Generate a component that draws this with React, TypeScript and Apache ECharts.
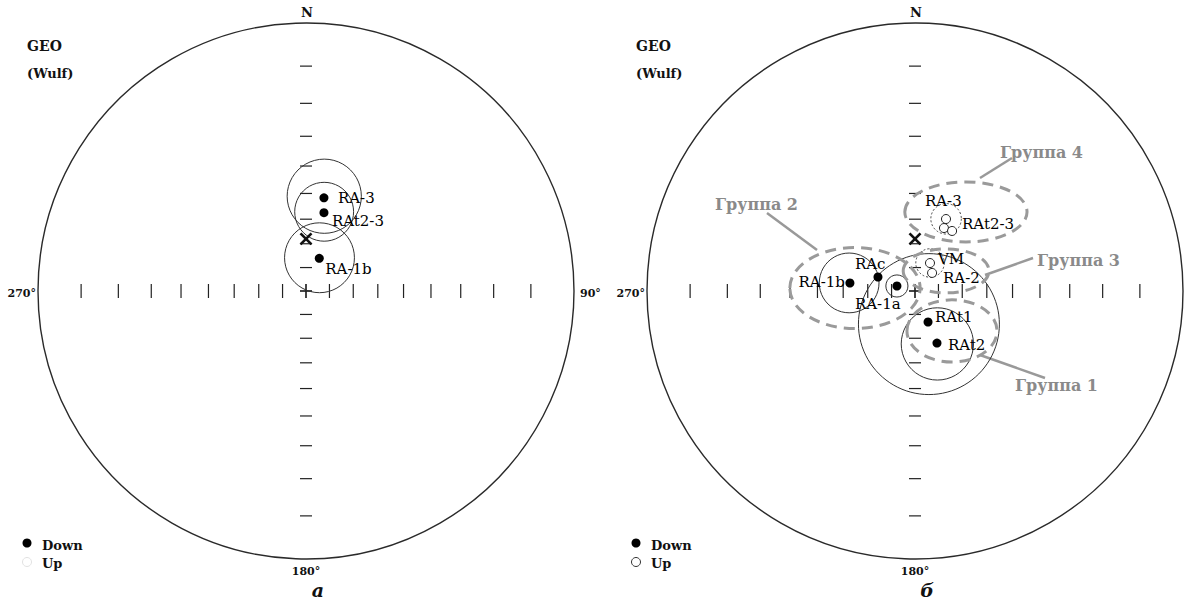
import React, { useEffect, useRef } from "react";
import * as echarts from "echarts";

// ---------- DATA ----------
// Wulff-net tick inclinations along the N-S and E-W diameters (90 = centre cross)
const tickInclinations = [90, 80, 70, 60, 50, 40, 30, 20, 10];

// Panel "а" (left)
const leftNames = ["RA-3", "RAt2-3", "RA-1b"];
const leftDec = [10.9, 12.9, 22.1];
const leftInc = [51.0, 56.6, 75.0];
const leftA95 = [14.0, 11.5, 14.6];

// Panel "б" (right)
const rightNames = ["RA-1b", "RAc", "RA-1a", "RAt1", "RAt2", "VM", "RA-2", "RA-3", "", "RAt2-3"];
const rightDec = [277.0, 290.7, 285.5, 157.2, 157.1, 28.2, 43.4, 23.3, 24.7, 31.7];
const rightInc = [62.5, 73.2, 82.0, 75.7, 66.2, -76.5, -79.4, -57.4, -61.0, -60.5];
const rightA95: (number | null)[] = [12.0, null, 4.7, 29.0, 14.7, 6.0, null, 6.0, null, null];

// Reference direction (cross)
const referenceDec = 0;
const referenceInc = 68;

// Group outlines (right panel)
const groupNames = ["Группа 1", "Группа 2", "Группа 3", "Группа 4"];

// ---------- LAYOUT ----------
const FONT = '"DejaVu Serif", "Liberation Serif", serif';
const LEFT_C = [306, 291];
const RIGHT_C = [915, 291];
const RADIUS = 268;

type Lay = [number, number, "left" | "right" | "center"];
const leftLabelLayout: Record<string, Lay> = {
  "RA-3": [14, 0, "left"],
  "RAt2-3": [8, 8, "left"],
  "RA-1b": [6, 11, "left"],
};
const rightLabelLayout: Record<string, Lay> = {
  "RA-3": [-21, -18, "left"],
  "RAt2-3": [10, -7, "left"],
  VM: [8, -4, "left"],
  "RA-2": [11, 5, "left"],
  RAc: [-23, -13, "left"],
  "RA-1b": [-5, -1, "right"],
  "RA-1a": [-42, 18, "left"],
  RAt1: [7, -5, "left"],
  RAt2: [11, 2, "left"],
};
// ellipse outlines in net units: [cx, cy, rx, ry]
const groupOutlines: Record<string, [number, number, number, number]> = {
  "Группа 1": [0.138, -0.149, 0.168, 0.116],
  "Группа 2": [-0.224, 0.011, 0.243, 0.151],
  "Группа 3": [0.116, 0.075, 0.16, 0.082],
  "Группа 4": [0.19, 0.295, 0.228, 0.112],
};
const groupLabelPos: Record<string, [number, number]> = {
  "Группа 1": [1015, 385],
  "Группа 2": [715, 204],
  "Группа 3": [1037, 260],
  "Группа 4": [1000, 152],
};
const groupLeaders: Record<string, [number, number, number, number]> = {
  "Группа 1": [980, 355, 1045, 378],
  "Группа 2": [767, 213, 817, 250],
  "Группа 3": [985, 275, 1033, 258],
  "Группа 4": [1012, 158, 980, 178],
};

// ---------- PROJECTION (stereographic / Wulff) ----------
const RAD = Math.PI / 180;
function project(dec: number, inc: number): [number, number] {
  const d = (90 - Math.abs(inc)) * RAD;
  const r = Math.tan(d / 2);
  return [r * Math.sin(dec * RAD), r * Math.cos(dec * RAD)];
}
function cone(dec: number, inc: number, a95: number): [number, number, number] {
  const d = 90 - Math.abs(inc);
  const r1 = Math.tan(((d - a95) / 2) * RAD);
  const r2 = Math.tan(((d + a95) / 2) * RAD);
  const c = (r1 + r2) / 2;
  return [c * Math.sin(dec * RAD), c * Math.cos(dec * RAD), (r2 - r1) / 2];
}

function frameSeries(idx: number) {
  return {
    type: "custom",
    xAxisIndex: idx,
    yAxisIndex: idx,
    silent: true,
    encode: { x: 0, y: 1 },
    data: [[0, 0, 1]],
    renderItem: (_p: any, api: any) => {
      const c = api.coord([0, 0]);
      const s = api.size([1, 1]);
      return {
        type: "circle",
        shape: { cx: c[0], cy: c[1], r: s[0] },
        style: { fill: "none", stroke: "#2a2a2a", lineWidth: 1.4 },
      };
    },
  };
}

function ticksSeries(idx: number) {
  return {
    type: "custom",
    xAxisIndex: idx,
    yAxisIndex: idx,
    silent: true,
    encode: { x: 0, y: 1 },
    data: tickInclinations.map((inc) => [Math.tan(((90 - inc) / 2) * RAD), 0]),
    renderItem: (_p: any, api: any) => {
      const r = api.value(0);
      const e = api.coord([r, 0]);
      const w = api.coord([-r, 0]);
      const n = api.coord([0, r]);
      const s = api.coord([0, -r]);
      const st = { stroke: "#222", lineWidth: 1.2 };
      const v = (p: number[]) => ({ type: "line", shape: { x1: p[0], y1: p[1] - 7, x2: p[0], y2: p[1] + 7 }, style: st });
      const h = (p: number[]) => ({ type: "line", shape: { x1: p[0] - 6, y1: p[1], x2: p[0] + 6, y2: p[1] }, style: st });
      return { type: "group", children: [v(e), v(w), h(n), h(s)] };
    },
  };
}

function coneSeries(idx: number, decs: number[], incs: number[], a95s: (number | null)[]) {
  const data: number[][] = [];
  decs.forEach((d, i) => {
    const a = a95s[i];
    if (a == null) return;
    const [x, y, rho] = cone(d, incs[i], a);
    data.push([x, y, rho, incs[i] < 0 ? 1 : 0]);
  });
  return {
    type: "custom",
    xAxisIndex: idx,
    yAxisIndex: idx,
    silent: true,
    encode: { x: 0, y: 1 },
    data,
    renderItem: (_p: any, api: any) => {
      const c = api.coord([api.value(0), api.value(1)]);
      const s = api.size([api.value(2), api.value(2)]);
      const up = api.value(3) === 1;
      return {
        type: "circle",
        shape: { cx: c[0], cy: c[1], r: s[0] },
        style: up
          ? { fill: "none", stroke: "#444", lineWidth: 1, lineDash: [2, 2] }
          : { fill: "none", stroke: "#333", lineWidth: 1 },
      };
    },
  };
}

function pointSeries(idx: number, names: string[], decs: number[], incs: number[], layout: Record<string, Lay>) {
  const data = decs.map((d, i) => {
    const [x, y] = project(d, incs[i]);
    return [x, y, incs[i] < 0 ? 1 : 0];
  });
  return {
    type: "custom",
    xAxisIndex: idx,
    yAxisIndex: idx,
    silent: true,
    z: 10,
    encode: { x: 0, y: 1 },
    data,
    renderItem: (params: any, api: any) => {
      const p = api.coord([api.value(0), api.value(1)]);
      const up = api.value(2) === 1;
      const name = names[params.dataIndex];
      const children: any[] = [
        {
          type: "circle",
          shape: { cx: p[0], cy: p[1], r: 4.5 },
          style: up ? { fill: "#fff", stroke: "#222", lineWidth: 1 } : { fill: "#000" },
        },
      ];
      const lay = layout[name];
      if (name && lay) {
        children.push({
          type: "text",
          style: {
            text: name,
            x: p[0] + lay[0],
            y: p[1] + lay[1],
            align: lay[2],
            verticalAlign: "middle",
            font: `15px ${FONT}`,
            fill: "#000",
          },
        });
      }
      return { type: "group", children };
    },
  };
}

function referenceSeries(idx: number) {
  return {
    type: "custom",
    xAxisIndex: idx,
    yAxisIndex: idx,
    silent: true,
    z: 11,
    encode: { x: 0, y: 1 },
    data: [project(referenceDec, referenceInc)],
    renderItem: (_p: any, api: any) => {
      const p = api.coord([api.value(0), api.value(1)]);
      const st = { stroke: "#111", lineWidth: 2.6 };
      const k = 5.5;
      return {
        type: "group",
        children: [
          { type: "line", shape: { x1: p[0] - k, y1: p[1] - k, x2: p[0] + k, y2: p[1] + k }, style: st },
          { type: "line", shape: { x1: p[0] - k, y1: p[1] + k, x2: p[0] + k, y2: p[1] - k }, style: st },
        ],
      };
    },
  };
}

function groupSeries(idx: number) {
  return {
    type: "custom",
    xAxisIndex: idx,
    yAxisIndex: idx,
    silent: true,
    z: 5,
    encode: { x: 0, y: 1 },
    data: groupNames.map((g) => groupOutlines[g]),
    renderItem: (_p: any, api: any) => {
      const c = api.coord([api.value(0), api.value(1)]);
      const s = api.size([api.value(2), api.value(3)]);
      return {
        type: "ellipse",
        shape: { cx: c[0], cy: c[1], rx: s[0], ry: s[1] },
        style: { fill: "none", stroke: "#9a9a9a", lineWidth: 3, lineDash: [11, 7] },
      };
    },
  };
}

function txt(text: string, x: number, y: number, font: string, align = "left", fill = "#111") {
  return { type: "text", x, y, silent: true, style: { text, font, fill, align, verticalAlign: "middle" } };
}

function panelDecor(c: number[], showEast: boolean, label: string, upStroke: string) {
  const [cx, cy] = c;
  const els: any[] = [
    txt("N", cx + 1, 12, `bold 13px ${FONT}`, "center"),
    txt("270°", cx - RADIUS - 2, cy + 2, `bold 11px ${FONT}`, "right"),
    txt("180°", cx, cy + RADIUS + 12, `bold 11px ${FONT}`, "center"),
    txt("GEO", cx - 279, 46, `bold 14px ${FONT}`),
    txt("(Wulf)", cx - 279, 73, `bold 13px ${FONT}`),
    { type: "circle", silent: true, shape: { cx: cx - 279, cy: 543, r: 4.5 }, style: { fill: "#000" } },
    txt("Down", cx - 264, 545, `bold 13px ${FONT}`),
    { type: "circle", silent: true, shape: { cx: cx - 279, cy: 562, r: 4.5 }, style: { fill: "#fff", stroke: upStroke, lineWidth: 1 } },
    txt("Up", cx - 264, 563, `bold 13px ${FONT}`),
    txt(label, cx + 12, 590, `italic bold 19px ${FONT}`, "center"),
  ];
  if (showEast) els.push(txt("90°", cx + RADIUS + 6, cy + 2, `bold 11px ${FONT}`, "left"));
  return els;
}

export default function App() {
  const ref = useRef<HTMLDivElement>(null);
  useEffect(() => {
    const chart = echarts.init(ref.current!, undefined, { renderer: "svg" });
    const axisCommon = { type: "value", min: -1, max: 1, show: false };
    const groupGraphics: any[] = [];
    groupNames.forEach((g) => {
      const l = groupLeaders[g];
      groupGraphics.push({
        type: "line",
        silent: true,
        shape: { x1: l[0], y1: l[1], x2: l[2], y2: l[3] },
        style: { stroke: "#999", lineWidth: 2.5 },
      });
      const p = groupLabelPos[g];
      groupGraphics.push(txt(g, p[0], p[1], `bold 16px ${FONT}`, "left", "#8a8a8a"));
    });
    chart.setOption({
      animation: false,
      backgroundColor: "#fff",
      grid: [
        { left: LEFT_C[0] - RADIUS, top: LEFT_C[1] - RADIUS, width: 2 * RADIUS, height: 2 * RADIUS },
        { left: RIGHT_C[0] - RADIUS, top: RIGHT_C[1] - RADIUS, width: 2 * RADIUS, height: 2 * RADIUS },
      ],
      xAxis: [
        { ...axisCommon, gridIndex: 0 },
        { ...axisCommon, gridIndex: 1 },
      ],
      yAxis: [
        { ...axisCommon, gridIndex: 0 },
        { ...axisCommon, gridIndex: 1 },
      ],
      series: [
        frameSeries(0),
        ticksSeries(0),
        coneSeries(0, leftDec, leftInc, leftA95),
        referenceSeries(0),
        pointSeries(0, leftNames, leftDec, leftInc, leftLabelLayout),
        frameSeries(1),
        ticksSeries(1),
        groupSeries(1),
        coneSeries(1, rightDec, rightInc, rightA95),
        referenceSeries(1),
        pointSeries(1, rightNames, rightDec, rightInc, rightLabelLayout),
      ],
      graphic: [
        ...panelDecor(LEFT_C, true, "а", "#e2e2e2"),
        ...panelDecor(RIGHT_C, false, "б", "#333"),
        ...groupGraphics,
      ],
    });
    return () => chart.dispose();
  }, []);
  return (
    <div
      ref={ref}
      style={{ position: "absolute", left: 0, top: 0, width: 1187, height: 600, background: "#fff" }}
    />
  );
}
